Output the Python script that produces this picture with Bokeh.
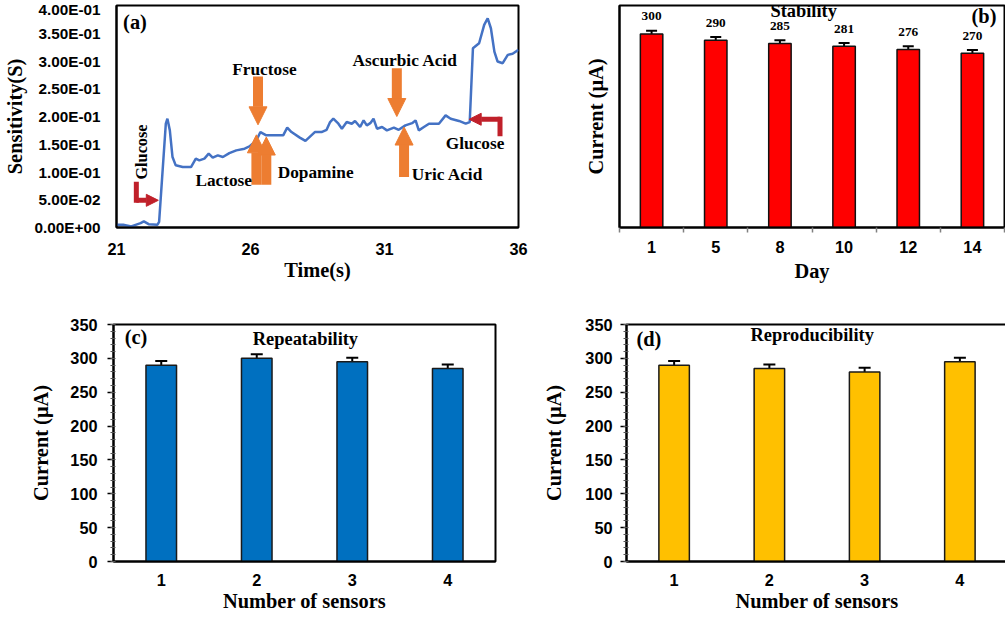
from bokeh.plotting import figure
from bokeh.layouts import column, row
from bokeh.models import (Range1d, FixedTicker, SingleIntervalTicker, Label, Arrow,
                          NormalHead, Whisker, TeeHead, ColumnDataSource)
from bokeh.core.properties import value
from bokeh.embed import file_html
from bokeh.resources import INLINE

# ---------------- data ----------------
# (a) sensitivity vs time
time_s = [21.00, 21.25, 21.55, 21.90, 22.02, 22.20, 22.53, 22.59, 22.84, 22.90,
          22.99, 23.09, 23.21, 23.47, 23.78, 23.96, 24.09, 24.28, 24.44, 24.59,
          24.78, 24.97, 25.21, 25.47, 25.78, 25.96, 26.22, 26.37, 26.59, 27.22,
          27.37, 27.53, 27.84, 28.05, 28.40, 28.65, 28.84, 28.97, 29.09, 29.28,
          29.41, 29.59, 29.78, 29.90, 30.09, 30.22, 30.34, 30.47, 30.59, 30.72,
          30.91, 31.09, 31.35, 31.53, 31.78, 32.03, 32.16, 32.28, 32.47, 32.66,
          33.03, 33.28, 33.47, 33.78, 34.03, 34.18, 34.30, 34.53, 34.72, 34.85,
          34.97, 35.10, 35.22, 35.41, 35.60, 35.78, 36.00]
sensitivity = [0.005, 0.005, 0.002, 0.008, 0.011, 0.006, 0.005, 0.010, 0.187, 0.196,
               0.175, 0.127, 0.112, 0.109, 0.109, 0.124, 0.121, 0.124, 0.133, 0.126,
               0.130, 0.127, 0.134, 0.139, 0.142, 0.146, 0.157, 0.172, 0.166, 0.166,
               0.180, 0.172, 0.162, 0.156, 0.172, 0.172, 0.176, 0.190, 0.196, 0.187,
               0.178, 0.190, 0.187, 0.192, 0.181, 0.193, 0.184, 0.188, 0.196, 0.178,
               0.181, 0.175, 0.180, 0.176, 0.184, 0.188, 0.193, 0.175, 0.181, 0.187,
               0.187, 0.202, 0.196, 0.192, 0.187, 0.190, 0.323, 0.332, 0.365, 0.377,
               0.359, 0.317, 0.299, 0.296, 0.311, 0.313, 0.320]
a_xticks = [21, 26, 31, 36]
a_yticks = [0.0, 0.05, 0.1, 0.15, 0.2, 0.25, 0.3, 0.35, 0.4]
a_ylabels = ["0.00E+00", "5.00E-02", "1.00E-01", "1.50E-01", "2.00E-01",
             "2.50E-01", "3.00E-01", "3.50E-01", "4.00E-01"]

# (b) stability
days = ["1", "5", "8", "10", "12", "14"]
stability = [300, 290, 285, 281, 276, 270]
stability_err = [5, 5, 5, 5, 5, 5]

# (c) repeatability
sensors = ["1", "2", "3", "4"]
repeatability = [290, 300, 295, 285]
repeatability_err = [6, 6, 6, 6]

# (d) reproducibility
reproducibility = [290, 285, 280, 295]
reproducibility_err = [6, 6, 6, 6]

SERIF = "Liberation Serif"
SANS = "Liberation Sans"
ORANGE = "#ED7D31"
DARKRED = "#C0202A"
S = 1.02


def fs(v):
    return f"{v * S:.1f}px"


def base_style(p, tick_size):
    p.grid.visible = False
    p.outline_line_color = "black"
    p.outline_line_width = 2
    p.background_fill_color = "white"
    p.border_fill_color = "white"
    for ax in p.axis:
        ax.axis_line_color = "black"
        ax.axis_line_width = 2
        ax.major_label_text_font = SANS
        ax.major_label_text_font_style = "bold"
        ax.major_label_text_font_size = fs(tick_size)
        ax.major_label_text_color = "black"
        ax.axis_label_text_font = SERIF
        ax.axis_label_text_font_style = "bold"
        ax.axis_label_text_font_size = fs(20)
        ax.axis_label_text_color = "black"


def add_label(p, x, y, text, size=17, angle=0.0, color="black",
              font=SERIF, style="bold", align="center"):
    p.add_layout(Label(x=x, y=y, text=text, text_font=font, text_font_size=fs(size),
                       text_font_style=style, text_align=align,
                       text_baseline="middle", angle=angle, text_color=color))


def block_arrow(p, x0, y0, x1, y1):
    p.add_layout(Arrow(end=NormalHead(size=18, fill_color=ORANGE, line_color=ORANGE),
                       x_start=x0, y_start=y0, x_end=x1, y_end=y1,
                       line_color=ORANGE, line_width=10))


def elbow_arrow(p, xv, y0, yc, x1):
    p.add_layout(Arrow(end=None, x_start=xv, y_start=y0, x_end=xv, y_end=yc,
                       line_color=DARKRED, line_width=5, line_cap="square"))
    p.add_layout(Arrow(end=NormalHead(size=12, fill_color=DARKRED, line_color=DARKRED),
                       x_start=xv, y_start=yc, x_end=x1, y_end=yc,
                       line_color=DARKRED, line_width=5))


ROW1_H = 296
ROW2_H = 322

# ---------------- (a) ----------------
pa = figure(width=533, height=ROW1_H, x_range=Range1d(21, 36), y_range=Range1d(0, 0.4),
            output_backend="svg", toolbar_location=None,
            min_border_left=110, min_border_right=15, min_border_top=5,
            min_border_bottom=ROW1_H - 5 - 222)
pa.line(time_s, sensitivity, line_color="#4472C4", line_width=2.5)
base_style(pa, 15)
pa.xaxis.ticker = FixedTicker(ticks=a_xticks)
pa.yaxis.ticker = FixedTicker(ticks=a_yticks)
pa.yaxis.major_label_overrides = dict(zip(a_yticks, a_ylabels))
pa.xaxis.major_label_text_font_size = fs(16)
for ax in pa.axis:
    ax.major_tick_line_color = None
    ax.minor_tick_line_color = None
    ax.major_tick_out = 0
    ax.major_tick_in = 0
pa.yaxis.major_label_standoff = 16
pa.yaxis.axis_label_standoff = 6
pa.xaxis.major_label_standoff = 15
pa.xaxis.axis_label_standoff = 1
pa.xaxis.axis_label = "Time(s)"
pa.yaxis.axis_label = "Sensitivity(S)"

block_arrow(pa, 26.28, 0.272, 26.28, 0.185)      # Fructose
block_arrow(pa, 26.22, 0.077, 26.22, 0.167)      # Lactose
block_arrow(pa, 26.59, 0.077, 26.59, 0.163)      # Dopamine
block_arrow(pa, 31.46, 0.287, 31.46, 0.200)      # Ascurbic Acid
block_arrow(pa, 31.73, 0.091, 31.73, 0.181)      # Uric Acid
elbow_arrow(pa, 21.74, 0.078, 0.049, 22.56)      # Glucose (left)
elbow_arrow(pa, 35.31, 0.169, 0.195, 34.16)      # Glucose (right)

add_label(pa, 21.69, 0.371, "(a)", size=20)
add_label(pa, 26.52, 0.284, "Fructose")
add_label(pa, 25.00, 0.085, "Lactose")
add_label(pa, 28.43, 0.100, "Dopamine")
add_label(pa, 31.77, 0.301, "Ascurbic Acid")
add_label(pa, 33.35, 0.096, "Uric Acid")
add_label(pa, 34.38, 0.151, "Glucose")
add_label(pa, 21.94, 0.136, "Glucose", size=16, angle=1.5708)

# ---------------- (b) ----------------
bx = [i + 0.5 for i in range(len(days))]
pb = figure(width=476, height=ROW1_H, x_range=Range1d(0, len(days)), y_range=Range1d(0, 344),
            output_backend="svg", toolbar_location=None,
            min_border_left=86, min_border_right=5, min_border_top=2,
            min_border_bottom=ROW1_H - 2 - 231)
pb.vbar(x=bx, top=stability, width=0.35, fill_color="#FF0000", line_color="#111111",
        line_width=1.5)
src_b = ColumnDataSource(dict(x=bx, lo=[v - e for v, e in zip(stability, stability_err)],
                              hi=[v + e for v, e in zip(stability, stability_err)]))
pb.add_layout(Whisker(source=src_b, base="x", lower="lo", upper="hi", line_width=2,
                      line_color="black",
                      upper_head=TeeHead(size=11, line_width=2, line_color="black"),
                      lower_head=TeeHead(size=11, line_width=2, line_color="black")))
pb.text(x=bx, y=[v + 27 for v in stability], text=[str(v) for v in stability],
        text_font=value(SERIF), text_font_style="bold", text_font_size=fs(13),
        text_align="center", text_baseline="middle", text_color="black")
base_style(pb, 16)
pb.xaxis.ticker = FixedTicker(ticks=bx, minor_ticks=list(range(len(days) + 1)))
pb.xaxis.major_label_overrides = dict(zip(bx, days))
pb.xaxis.major_tick_line_color = None
pb.xaxis.major_tick_out = 5
pb.xaxis.major_tick_in = 0
pb.xaxis.minor_tick_line_color = "#808080"
pb.xaxis.minor_tick_line_width = 1.5
pb.xaxis.minor_tick_out = 5
pb.xaxis.minor_tick_in = 0
pb.xaxis.major_label_standoff = 8
pb.xaxis.axis_label_standoff = 4
pb.xaxis.axis_label = "Day"
pb.yaxis.ticker = FixedTicker(ticks=[])
pb.yaxis.major_tick_line_color = None
pb.yaxis.minor_tick_line_color = None
pb.yaxis.major_label_standoff = 0
pb.yaxis.major_tick_out = 0
pb.yaxis.axis_label_standoff = 13
pb.yaxis.axis_label = "Current (μA)"
add_label(pb, 2.87, 335, "Stability", size=18)
add_label(pb, 5.68, 328, "(b)", size=20)


# ---------------- (c) & (d) ----------------
def sensor_panel(vals, errs, color, width, left, right, top, frame_h, tag, title,
                 tag_x, tag_y, title_x, title_y, lab_standoff, tick_standoff):
    xs = [i + 1 for i in range(len(sensors))]
    p = figure(width=width, height=ROW2_H, x_range=Range1d(0.5, len(sensors) + 0.5),
               y_range=Range1d(0, 350), output_backend="svg", toolbar_location=None,
               min_border_left=left, min_border_right=right,
               min_border_top=top, min_border_bottom=ROW2_H - top - frame_h)
    p.vbar(x=xs, top=vals, width=0.32, fill_color=color, line_color="#1a1a1a",
           line_width=1.5)
    src = ColumnDataSource(dict(x=xs, lo=[v - e for v, e in zip(vals, errs)],
                                hi=[v + e for v, e in zip(vals, errs)]))
    p.add_layout(Whisker(source=src, base="x", lower="lo", upper="hi", line_width=2,
                         line_color="black",
                         upper_head=TeeHead(size=12, line_width=2, line_color="black"),
                         lower_head=TeeHead(size=12, line_width=2, line_color="black")))
    base_style(p, 16)
    p.xaxis.ticker = FixedTicker(ticks=xs)
    p.xaxis.major_label_overrides = dict(zip(xs, sensors))
    p.xaxis.major_tick_line_color = None
    p.xaxis.minor_tick_line_color = None
    p.xaxis.major_tick_out = 0
    p.xaxis.major_tick_in = 0
    p.xaxis.major_label_standoff = 12
    p.xaxis.axis_label_standoff = 1
    p.xaxis.axis_label = "Number of sensors"
    p.yaxis.ticker = SingleIntervalTicker(interval=50, num_minor_ticks=5)
    p.yaxis.major_tick_out = 6
    p.yaxis.major_tick_in = 0
    p.yaxis.major_tick_line_width = 1.5
    p.yaxis.minor_tick_out = 3
    p.yaxis.minor_tick_in = 2
    p.yaxis.minor_tick_line_color = "#555555"
    p.yaxis.major_label_standoff = tick_standoff
    p.yaxis.axis_label_standoff = lab_standoff
    p.yaxis.axis_label = "Current (μA)"
    add_label(p, tag_x, tag_y, tag, size=20)
    add_label(p, title_x, title_y, title, size=18)
    return p


pc = sensor_panel(repeatability, repeatability_err, "#0070C0", 502, 113, 7, 25, 241,
                  "(c)", "Repeatability", 0.735, 331, 2.51, 329, 15, 10)
pd_ = sensor_panel(reproducibility, reproducibility_err, "#FFC000", 507, 124, 2, 28, 237,
                   "(d)", "Reproducibility", 0.735, 329, 2.45, 334, 17, 8)

layout = column(row(pa, pb), row(pc, pd_))
open("out.html", "w").write(file_html(layout, INLINE))
